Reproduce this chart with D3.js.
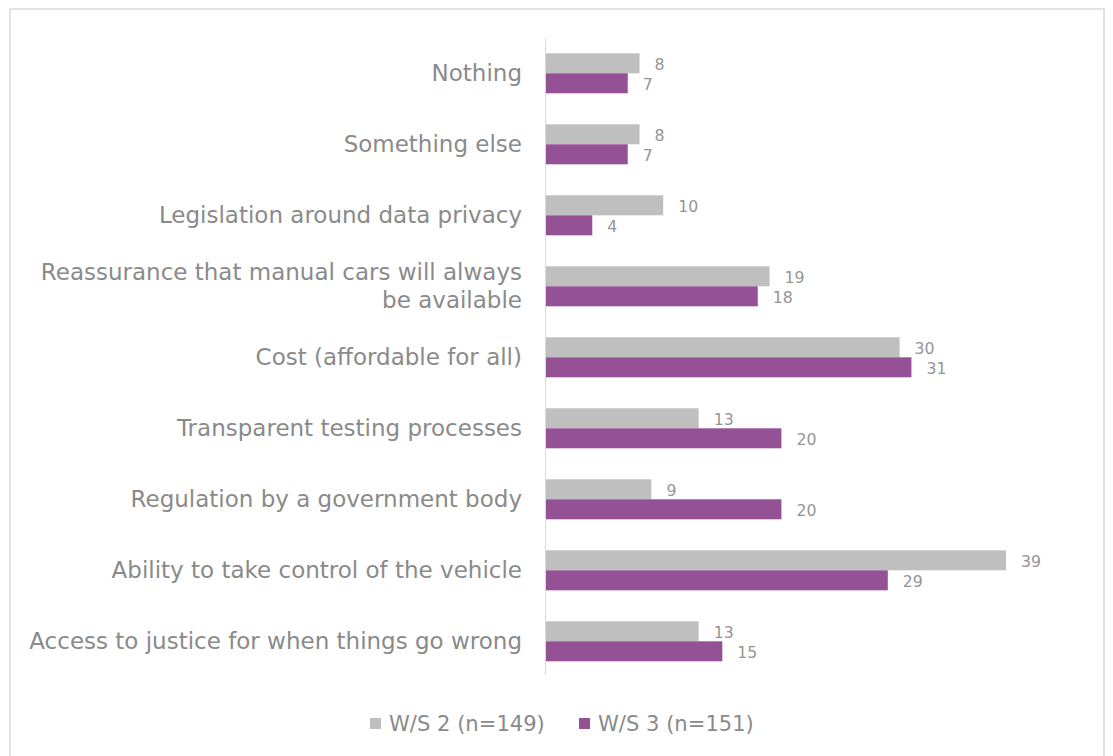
<!DOCTYPE html>
<html>
<head>
<meta charset="utf-8">
<script src="https://cdn.jsdelivr.net/npm/d3@7"></script>
<style>
  html, body { margin: 0; padding: 0; background: #fff; }
  svg { display: block; }
  text { font-family: "DejaVu Sans", "Noto Sans", sans-serif; }
</style>
</head>
<body>
<svg id="chart" width="1113" height="756"></svg>
<script>
// Survey responses (%), two waves
const categories = [
  "Nothing",
  "Something else",
  "Legislation around data privacy",
  "Reassurance that manual cars will always be available",
  "Cost (affordable for all)",
  "Transparent testing processes",
  "Regulation by a government body",
  "Ability to take control of the vehicle",
  "Access to justice for when things go wrong"
];
const categoryLines = [
  ["Nothing"],
  ["Something else"],
  ["Legislation around data privacy"],
  ["Reassurance that manual cars will always", "be available"],
  ["Cost (affordable for all)"],
  ["Transparent testing processes"],
  ["Regulation by a government body"],
  ["Ability to take control of the vehicle"],
  ["Access to justice for when things go wrong"]
];
const wave2 = [8, 8, 10, 19, 30, 13, 9, 39, 13];
const wave3 = [7, 7, 4, 18, 31, 20, 20, 29, 15];
const seriesNames = ["W/S 2 (n=149)", "W/S 3 (n=151)"];
const seriesColors = ["#bfbfbf", "#955196"];

const svg = d3.select("#chart");

// font size at which a sample string reaches a given width
function fitSize(sample, targetWidth) {
  const t = svg.append("text").attr("font-size", 20).text(sample);
  const w = t.node().getComputedTextLength();
  t.remove();
  return 20 * targetWidth / w;
}
const labelSize = fitSize("Access to justice for when things go wrong", 493);
const valueSize = fitSize("39", 20);
const legendSize = fitSize("W/S 2 (n=149)", 156);

// outer frame
svg.append("rect")
  .attr("x", 10).attr("y", 9)
  .attr("width", 1094).attr("height", 760)
  .attr("fill", "#fff")
  .attr("stroke", "#e3e3e3").attr("stroke-width", 2);

const x = d3.scaleLinear().domain([0, 39]).range([545, 1006]);
const y = d3.scaleBand().domain(categories).range([37.8, 676.8]).paddingInner(0).paddingOuter(0);
const barH = 20;

// vertical axis line
svg.append("line")
  .attr("x1", 545.5).attr("x2", 545.5)
  .attr("y1", 38).attr("y2", 675)
  .attr("stroke", "#d9d9d9").attr("stroke-width", 1);

const series = [wave2, wave3];
series.forEach((vals, si) => {
  const g = svg.append("g");
  g.selectAll("rect")
    .data(categories)
    .join("rect")
    .attr("x", x(0) + 1)
    .attr("y", (d) => y(d) + y.bandwidth() / 2 - barH + si * barH)
    .attr("width", (d, i) => x(vals[i]) - x(0) - 1)
    .attr("height", barH)
    .attr("fill", seriesColors[si]);
  g.selectAll("text")
    .data(categories)
    .join("text")
    .attr("x", (d, i) => x(vals[i]) + 15)
    .attr("y", (d) => y(d) + y.bandwidth() / 2 - barH / 2 + si * barH + 1.5)
    .attr("dy", "0.35em")
    .attr("font-size", valueSize)
    .attr("fill", "#959595")
    .text((d, i) => vals[i]);
});

// category labels
const lab = svg.append("g");
categories.forEach((c, i) => {
  const lines = categoryLines[i];
  const cy = y(c) + y.bandwidth() / 2;
  const lh = 28;
  const t = lab.append("text")
    .attr("text-anchor", "end")
    .attr("font-size", labelSize)
    .attr("fill", "#8a8a8a");
  lines.forEach((ln, k) => {
    t.append("tspan")
      .attr("x", 522)
      .attr("y", cy + (k - (lines.length - 1) / 2) * lh)
      .attr("dy", "0.35em")
      .text(ln);
  });
});

// legend
const legend = svg.append("g");
const legendItems = [
  { name: seriesNames[0], color: seriesColors[0], x: 370 },
  { name: seriesNames[1], color: seriesColors[1], x: 579 }
];
legendItems.forEach((it) => {
  legend.append("rect")
    .attr("x", it.x).attr("y", 718)
    .attr("width", 11).attr("height", 11)
    .attr("fill", it.color);
  legend.append("text")
    .attr("x", it.x + 19).attr("y", 724)
    .attr("dy", "0.35em")
    .attr("font-size", legendSize)
    .attr("fill", "#8a8a8a")
    .text(it.name);
});
</script>
</body>
</html>
